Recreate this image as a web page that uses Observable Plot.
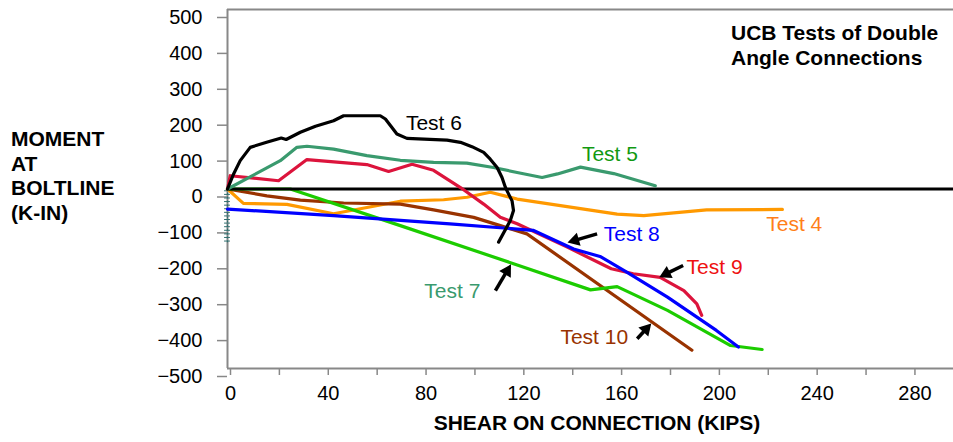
<!DOCTYPE html>
<html>
<head>
<meta charset="utf-8">
<script src="https://cdn.jsdelivr.net/npm/d3@7"></script>
<script src="https://cdn.jsdelivr.net/npm/@observablehq/plot@0.6"></script>
<style>
  body { margin: 0; background: white; }
  #wrap { position: relative; width: 953px; height: 442px; font-family: "Liberation Sans", Arial, sans-serif; }
  .lbl { position: absolute; font-weight: bold; font-size: 21px; line-height: 24.5px; color: black; white-space: nowrap; }
</style>
</head>
<body>
<div id="wrap">
  <div id="chart"></div>
  <div class="lbl" style="left:11px; top:127px;">MOMENT<br>AT<br>BOLTLINE<br>(K-IN)</div>
  <div class="lbl" style="left:731px; top:21px;">UCB Tests of Double<br>Angle Connections</div>
  <div class="lbl" style="left:397px; top:410.5px; width:400px; text-align:center;">SHEAR ON CONNECTION (KIPS)</div>
</div>
<script>
// ---- data (shear in kips, moment in k-in) ----
const test6 = [[0,0],[2.5,42],[5.2,79],[9.3,116],[16,130],[22,142],[24,138],[29.8,158],[36,175],[43.4,190],[47.5,204],[62.5,204],[64.6,195],[69.3,153],[73.4,141],[89.8,136],[95.3,130],[100,118],[104.8,102],[107.5,83],[110.3,60],[112.3,32],[113.7,4],[116.4,-33],[117,-60],[115.7,-88],[110.9,-148]];
const test5 = [[0,0],[21.6,79],[28.4,116],[32.5,119],[43.4,111],[57,93],[70.7,80],[84.3,74],[97.9,72],[108.8,60],[118.5,46],[128.7,32],[135,42],[144.4,61],[158,43],[175,9]];
const test9 = [[0,0],[1.1,37],[20.9,23],[32.5,82],[57,68],[65.9,49],[75.5,69],[84.3,52],[95.3,4],[104.8,-42],[111.6,-79],[118.5,-97],[139,-162],[157,-222],[166,-236],[177,-246],[186.7,-283],[192,-320],[194,-352]];
const test8 = [[0,-56],[43.4,-74],[91,-97],[125,-115],[141.6,-167],[152.4,-188],[163.5,-232],[180,-301],[200,-394],[209,-440]];
const test7 = [[0,0],[25.7,0],[70.7,-102],[117,-208],[148.5,-281],[159.4,-272],[180,-338],[205.8,-436],[218.7,-447]];
const test10 = [[0,0],[16.1,-19],[29.8,-31],[47.5,-39],[70.7,-42],[84.3,-58],[100.7,-79],[111.6,-102],[122.5,-125],[190,-449]];
const test4 = [[0,0],[6.5,-40],[24.3,-43],[43.4,-69],[70.7,-34],[88.4,-30],[98,-23],[107.5,-9],[118.5,-28],[159.4,-70],[170.3,-74],[196,-58],[227,-57]];
const hatchY = [-5,-15,-25,-35,-45,-55,-65,-75,-85,-95,-105,-115,-125,-135,-145];

// tick values and labels
const yTicks = [-500,-400,-300,-200,-100,0,100,200,300,400,500];
const xTicks = [0,20,40,60,80,100,120,140,160,180,200,220,240,260,280];
const xLabels = [0,40,80,120,160,200,240,280];

// series labels and arrows (data units)
const labelNames = ["Test 6","Test 5","Test 4","Test 8","Test 9","Test 7","Test 10"];
const labelX = [73, 145, 220.4, 153.9, 187.8, 80.5, 136.2];
const labelY = [183, 98, -99, -125, -218, -285, -414];
const labelColors = ["#000000","#119911","#ff7f1a","#0000ff","#ee1111","#3a9a6e","#993300"];
const arrows = [
  {x1:151.2, y1:-125, x2:139.6, y2:-148},
  {x1:186.4, y1:-213, x2:177.1, y2:-244},
  {x1:109.6, y1:-283, x2:115.7, y2:-213},
  {x1:167.6, y1:-417, x2:173.0, y2:-377}
];

const labels = labelNames.map((t, i) => ({text: t, x: labelX[i], y: labelY[i], color: labelColors[i]}));
const lineOpts = (c) => ({x: d => d[0], y: d => d[1], stroke: c, strokeWidth: 3.2});

const baseOptions = {
  width: 953,
  height: 442,
  marginTop: 9,
  marginBottom: 74,
  marginLeft: 227,
  marginRight: 0,
  x: {domain: [0, 297]},
  y: {domain: [-500, 500]},
  style: {fontFamily: "'Liberation Sans', Arial, sans-serif", background: "white", overflow: "visible"}
};

// first pass: get the scales to orient the arrowheads
const probe = Plot.plot({...baseOptions, marks: [Plot.ruleY([0])]});
const sx = probe.scale("x"), sy = probe.scale("y");
const heads = arrows.map(a => {
  const px1 = sx.apply(a.x1), py1 = sy.apply(a.y1);
  const px2 = sx.apply(a.x2), py2 = sy.apply(a.y2);
  const L = Math.hypot(px2 - px1, py2 - py1);
  const ux = (px2 - px1) / L, uy = (py2 - py1) / L;
  const back = 6.5;
  return {
    x: sx.invert(px2 - ux * back), y: sy.invert(py2 - uy * back),
    sx2: sx.invert(px2 - ux * 9), sy2: sy.invert(py2 - uy * 9),
    x1: a.x1, y1: a.y1,
    angle: Math.atan2(ux, -uy) * 180 / Math.PI
  };
});

const chart = Plot.plot({
  ...baseOptions,
  marks: [
    Plot.ruleY([500, -500], {stroke: "#888", strokeWidth: 2}),
    Plot.ruleX([0], {stroke: "#888", strokeWidth: 2}),
    Plot.axisY({ticks: yTicks, tickSize: 10, tickPadding: 15, fontSize: 20, dy: 8, stroke: "#888", fill: "black", strokeWidth: 1.5, label: null}),
    Plot.axisX({ticks: xTicks, tickFormat: d => xLabels.includes(d) ? String(d) : "", tickSize: 7, tickPadding: 10, fontSize: 20, dx: 3, stroke: "#888", fill: "black", strokeWidth: 1.5, label: null}),
    Plot.ruleX([0], {y1: 0, y2: -150, stroke: "#2f6f6f", strokeWidth: 1, strokeDasharray: "2,2"}),
    Plot.ruleY(hatchY, {x1: -1.2, x2: 1.2, stroke: "#2f6f6f", strokeWidth: 1}),
    Plot.line(test4, lineOpts("#ff9900")),
    Plot.line(test10, lineOpts("#993300")),
    Plot.line(test7, lineOpts("#1ccc00")),
    Plot.ruleY([0], {stroke: "black", strokeWidth: 3}),
    Plot.line(test9, lineOpts("#dc143c")),
    Plot.line(test8, lineOpts("#0000ff")),
    Plot.line(test5, lineOpts("#3a9a6e")),
    Plot.line(test6, lineOpts("#000000")),
    Plot.text(labels, {x: "x", y: "y", text: "text", fill: "color", textAnchor: "start", fontSize: 21}),
    Plot.link(heads, {x1: "x1", y1: "y1", x2: "sx2", y2: "sy2", stroke: "black", strokeWidth: 3.5}),
    Plot.dot(heads, {x: "x", y: "y", symbol: "triangle", r: 5, fill: "black", stroke: "none", rotate: "angle"})
  ]
});
document.getElementById("chart").appendChild(chart);
</script>
</body>
</html>
